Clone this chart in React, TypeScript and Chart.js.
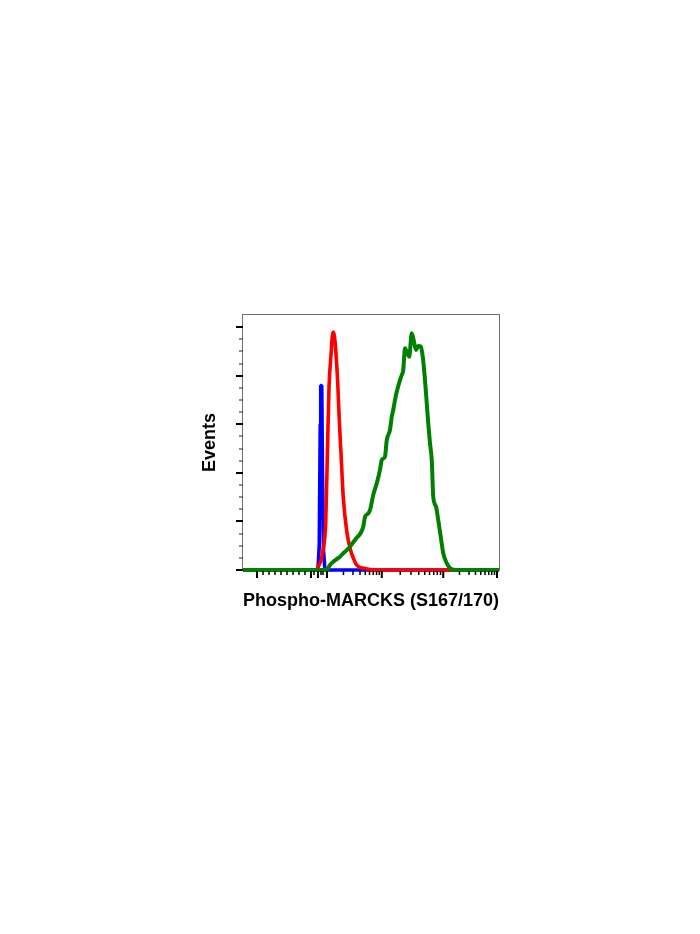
import React, { useEffect, useRef } from 'react';
import { Chart, registerables } from 'chart.js';

Chart.register(...registerables);

// Channel (display) units on x: 0..1024 ; events on y: 0..105
const greenX = [0, 335, 348, 361, 375, 388, 401, 415, 428, 441, 455, 468, 481, 488, 501, 508, 521, 535, 548, 555, 568, 575, 588, 595, 601, 608, 615, 628, 635, 641, 648, 657, 665, 675, 684, 692, 701, 711, 719, 728, 735, 741, 748, 755, 761, 772, 781, 791, 801, 815, 828, 848, 1024];
const greenY = [0, 0, 2.1, 3.4, 4.5, 5.5, 6.9, 8.2, 9.6, 11.4, 13.3, 14.8, 17.8, 21.9, 23.3, 24.7, 30.9, 35.7, 41.2, 45.3, 46.7, 53.5, 57.7, 63.1, 65.9, 70, 73.4, 78.2, 80.3, 82.4, 91.3, 89.2, 87.8, 97.5, 94, 90.6, 92.2, 92, 87.8, 78.2, 68.6, 60.4, 52.2, 45.3, 30.2, 26.1, 20.6, 13.7, 6.9, 2.8, 0.7, 0, 0];

const redX = [0, 292, 301, 312, 320, 331, 338, 344, 353, 357, 361, 366, 372, 379, 385, 392, 401, 415, 428, 441, 455, 480, 508, 548, 1024];
const redY = [0, 0, 1.4, 4, 8, 20, 50, 75, 90, 96, 98, 96, 89, 77, 62, 48, 30, 16, 9, 5, 2, 0.8, 0.2, 0, 0];

const blueX = [0, 292, 300, 305, 309, 311, 315, 318, 322, 327, 336, 1024];
const blueY = [0, 0, 0.5, 10, 60, 76, 76, 40, 8, 1, 0, 0];

const yMajorTicks = [0, 20, 40, 60, 80, 100];
const yMinorTicks = [5, 10, 15, 25, 30, 35, 45, 50, 55, 65, 70, 75, 85, 90, 95];
const xMajorTicks = [56, 272, 300, 336, 555, 801, 1016];
const xMinorTicks = [80, 104, 128, 152, 176, 200, 224, 248, 284, 312, 320, 402, 440, 468, 489, 506, 521, 534, 545, 629, 672, 703, 727, 746, 763, 777, 790, 866, 904, 930, 951, 968, 983, 995, 1006];

const xTitle = 'Phospho-MARCKS (S167/170)';
const yTitle = 'Events';

const toPoints = (xs: number[], ys: number[]) => xs.map((x, i) => ({ x, y: ys[i] }));

const flowPlugin = {
  id: 'flowFrameTicks',
  beforeDatasetsDraw(chart: any) {
    const { ctx, chartArea: a } = chart;
    ctx.save();
    ctx.strokeStyle = '#707070';
    ctx.lineWidth = 1;
    ctx.strokeRect(a.left - 0.5, a.top - 0.5, a.right - a.left + 1, a.bottom - a.top + 1);
    ctx.restore();
  },
  afterDraw(chart: any) {
    const { ctx, chartArea: a, scales } = chart;
    const xs = scales.x;
    const ys = scales.y;
    ctx.save();
    ctx.fillStyle = '#000';
    yMajorTicks.forEach((v) => {
      const p = Math.round(ys.getPixelForValue(v));
      ctx.fillRect(a.left - 7, p - 1, 7, 2);
    });
    ctx.fillStyle = '#222';
    yMinorTicks.forEach((v) => {
      const p = Math.round(ys.getPixelForValue(v));
      ctx.fillRect(a.left - 4, p - 0.5, 4, 1);
    });
    ctx.fillStyle = '#000';
    xMajorTicks.forEach((v) => {
      const p = xs.getPixelForValue(v);
      ctx.fillRect(p - 1, a.bottom + 1, 2, 7);
    });
    xMinorTicks.forEach((v) => {
      const p = xs.getPixelForValue(v);
      ctx.fillRect(p - 0.75, a.bottom + 1, 1.5, 4);
    });
    ctx.restore();
  },
};

const titleFont = { family: "'Liberation Sans', Arial, sans-serif", size: 18, weight: 'bold' as const };

export default function App() {
  const ref = useRef<HTMLCanvasElement | null>(null);
  useEffect(() => {
    if (!ref.current) return;
    const chart = new Chart(ref.current, {
      type: 'line',
      data: {
        datasets: [
          {
            label: 'Stimulated',
            data: toPoints(greenX, greenY),
            borderColor: '#008000',
            borderWidth: 4,
            pointRadius: 0,
            cubicInterpolationMode: 'monotone',
            fill: false,
            clip: false as any,
          },
          {
            label: 'Untreated',
            data: toPoints(redX, redY),
            borderColor: '#ff0000',
            borderWidth: 3.6,
            pointRadius: 0,
            cubicInterpolationMode: 'monotone',
            fill: false,
            clip: false as any,
          },
          {
            label: 'Isotype',
            data: toPoints(blueX, blueY),
            borderColor: '#0000ff',
            borderWidth: 3.6,
            pointRadius: 0,
            tension: 0,
            borderJoinStyle: 'bevel',
            fill: false,
            clip: false as any,
          },
        ],
      },
      options: {
        animation: false,
        responsive: false,
        maintainAspectRatio: false,
        devicePixelRatio: 1,
        layout: { padding: { top: 315, right: 201, bottom: 322, left: 199 } },
        plugins: { legend: { display: false }, tooltip: { enabled: false } },
        scales: {
          x: {
            type: 'linear',
            min: 0,
            max: 1024,
            grid: { display: false, drawTicks: false },
            border: { display: false },
            ticks: { display: false },
            title: { display: true, text: xTitle, font: titleFont, color: '#000', padding: 0 },
            afterFit: (s: any) => { s.height = 42; },
          },
          y: {
            type: 'linear',
            min: 0,
            max: 105,
            grid: { display: false, drawTicks: false },
            border: { display: false },
            ticks: { display: false },
            title: { display: true, text: yTitle, font: titleFont, color: '#000', padding: 0 },
            afterFit: (s: any) => { s.width = 44; },
          },
        },
      },
      plugins: [flowPlugin],
    });
    return () => chart.destroy();
  }, []);
  return (
    <div style={{ position: 'fixed', left: 0, top: 0, width: 700, height: 934, background: '#fff' }}>
      <canvas ref={ref} width={700} height={934} style={{ display: 'block' }} />
    </div>
  );
}
